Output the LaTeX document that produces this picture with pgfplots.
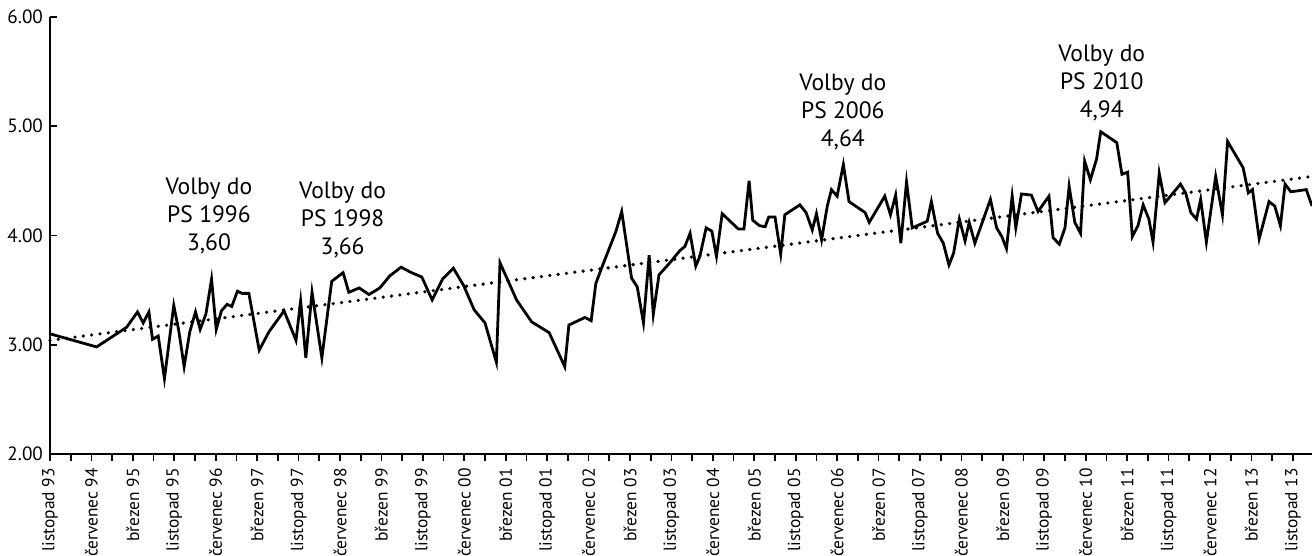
\documentclass[border=0pt]{standalone}
\usepackage{pgfplots}
\pgfplotsset{compat=1.18}
\usepackage{fontspec}
\setmainfont{PT Sans}
\usetikzlibrary{calc}
\pgfplotstableread{
m v
0 3.10
9 2.98
14.8 3.16
16.9 3.30
18.0 3.20
19.1 3.30
19.8 3.05
20.9 3.08
22.1 2.69
23.9 3.36
24.9 3.12
25.9 2.80
27 3.12
28.1 3.30
29.0 3.14
30.1 3.28
31.2 3.60
32.1 3.14
33.1 3.31
34.2 3.37
35.1 3.35
36.2 3.49
37.1 3.47
38.4 3.47
40.4 2.95
42.3 3.12
45.2 3.31
47.5 3.04
48.4 3.40
49.4 2.88
50.6 3.48
52.5 2.88
54.4 3.58
56.6 3.66
57.7 3.48
59.7 3.52
61.6 3.46
63.7 3.52
65.6 3.63
67.8 3.71
69.8 3.66
71.8 3.62
73.8 3.41
75.8 3.60
77.9 3.70
79.9 3.54
81.9 3.32
84.0 3.20
86.2 2.84
86.9 3.75
90.1 3.41
93.0 3.21
96.4 3.11
99.4 2.80
100.2 3.18
103.3 3.25
104.5 3.22
105.4 3.56
106.5 3.70
109.3 4.04
110.4 4.22
112.3 3.61
113.4 3.53
114.6 3.20
115.7 3.82
116.5 3.28
117.6 3.64
119.7 3.75
121.6 3.86
122.6 3.90
123.6 4.02
124.7 3.72
125.5 3.81
126.7 4.07
127.8 4.04
128.7 3.81
129.8 4.20
132.9 4.06
134.0 4.06
135.0 4.50
135.7 4.14
137.0 4.09
138.1 4.08
138.8 4.17
140.0 4.17
141.1 3.83
141.9 4.19
144.8 4.28
146.0 4.21
147.2 4.05
148.0 4.20
149.0 3.96
150.1 4.27
150.9 4.42
152.0 4.36
153.2 4.65
154.3 4.31
157.4 4.21
158.2 4.12
161.2 4.36
162.3 4.19
163.3 4.37
164.3 3.93
165.4 4.49
166.5 4.07
169.4 4.13
170.2 4.31
171.4 4.02
172.5 3.93
173.6 3.73
174.5 3.84
175.6 4.15
176.7 3.95
177.5 4.12
178.6 3.93
181.6 4.33
182.8 4.07
183.8 3.99
184.7 3.88
185.8 4.36
186.5 4.07
187.6 4.38
189.5 4.37
190.8 4.22
192.9 4.36
193.7 3.98
194.9 3.92
196.0 4.07
196.8 4.45
197.9 4.12
199.0 4.02
199.8 4.68
200.9 4.51
202.1 4.70
202.9 4.95
206.0 4.85
207.0 4.56
208.1 4.58
209.0 3.99
210.1 4.09
211.1 4.28
212.2 4.15
213.0 3.94
214.2 4.57
215.3 4.30
218.3 4.47
219.3 4.39
220.3 4.21
221.4 4.15
222.2 4.33
223.3 3.94
225.1 4.54
226.4 4.19
227.4 4.86
230.4 4.62
231.4 4.39
232.2 4.42
233.5 3.97
235.4 4.31
236.5 4.27
237.6 4.09
238.5 4.47
239.6 4.40
242.6 4.42
243.7 4.27
}\datatable
\begin{document}
\begin{tikzpicture}
\begin{axis}[
  name=ax,
  scale only axis,
  width=631pt, height=218.5pt,
  xmin=0, xmax=243.7, ymin=2, ymax=6,
  axis lines*=left,
  axis line style={line width=0.9pt},
  xtick={0,8,...,240},
  minor xtick={4,12,...,236},
  xticklabels={listopad 93,červenec 94,březen 95,listopad 95,červenec 96,březen 97,listopad 97,červenec 98,březen 99,listopad 99,červenec 00,březen 01,listopad 01,červenec 02,březen 03,listopad 03,červenec 04,březen 05,listopad 05,červenec 06,březen 07,listopad 07,červenec 08,březen 09,listopad 09,červenec 10,březen 11,listopad 11,červenec 12,březen 13,listopad 13},
  x tick label style={rotate=90, anchor=east, font=\fontsize{8.7}{10}\selectfont},
  xtick align=outside,
  ytick={2,3,4,5,6},
  ytick align=inside,
  yticklabel style={font=\fontsize{9.6}{11}\selectfont, /pgf/number format/.cd, fixed, fixed zerofill, precision=2, assume math mode=true},
  major tick length=3.5pt, minor tick length=3.5pt,
  tick style={black, line width=0.9pt},
  clip=false,
]
\addplot[black, line width=1.8pt, dash pattern=on 0pt off 4.2pt, line cap=round] coordinates {(0,3.04) (243.7,4.54)};
\addplot[black, line width=1.4pt] table[x=m, y=v] {\datatable};
\begin{scope}[every node/.style={align=center, font=\fontsize{11.8}{14}\selectfont}]
\node at (axis cs:30.7,4.174) {Volby do\\PS 1996\\3,60};
\node at (axis cs:56.5,4.14) {Volby do\\PS 1998\\3,66};
\node at (axis cs:153.1,5.13) {Volby do\\PS 2006\\4,64};
\node at (axis cs:203.1,5.40) {Volby do\\PS 2010\\4,94};
\end{scope}
\end{axis}
\pgfresetboundingbox
\path[use as bounding box] ($(ax.south west)+(-25pt,-51pt)$) rectangle ($(ax.north east)+(0,8.5pt)$);
\end{tikzpicture}
\end{document}
